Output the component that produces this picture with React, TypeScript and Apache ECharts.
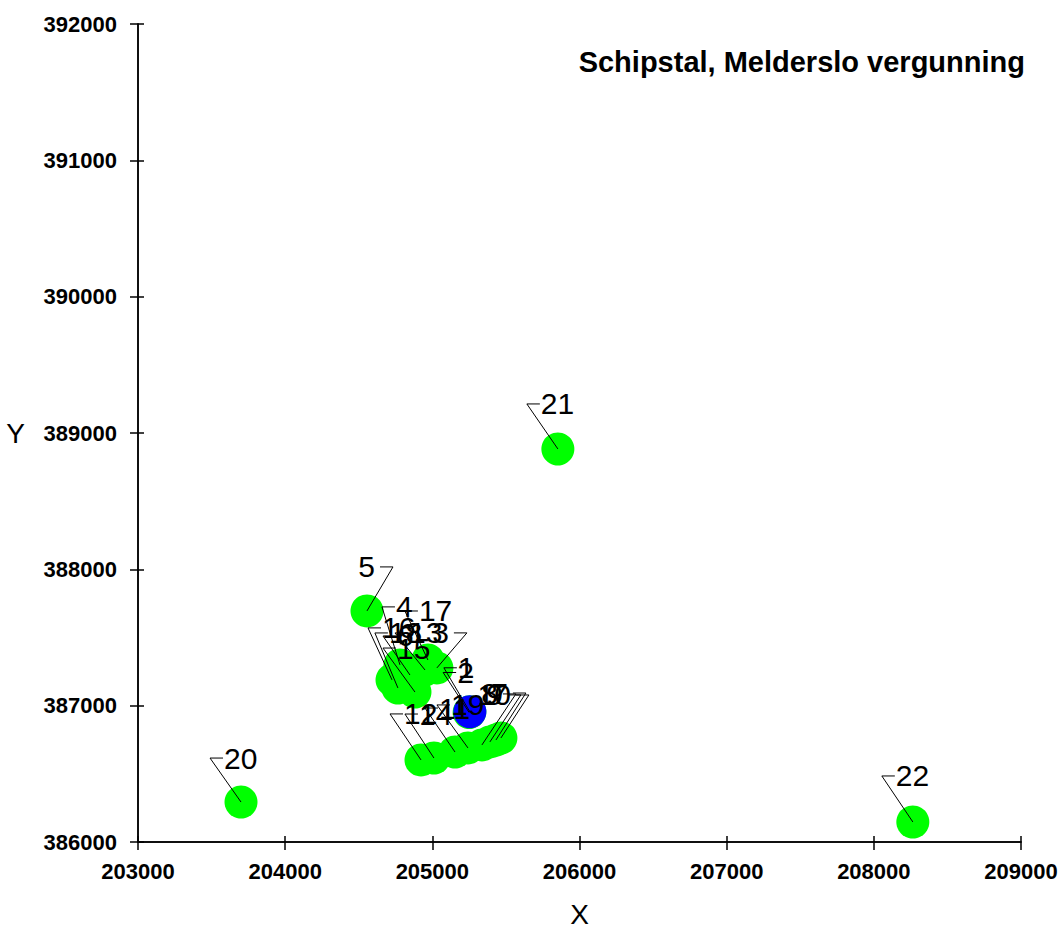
import React, { useEffect, useRef } from "react";
import * as echarts from "echarts";

const labels = ["1","2","3","4","5","6","7","8","9","10","11","12","13","14","15","16","17","18","19","20","21","22"];
const xs = [205255,205250,205031,204780,204556,204848,205432,205337,205391,205466,205154,204923,204950,205011,204882,204726,204970,204766,205242,203700,205853,208265];
const ys = [386955,386950,387277,387299,387695,387225,386748,386712,386734,386763,386660,386602,387262,386616,387100,387189,387335,387130,386690,386293,388883,386147];

const blueX = [205255];
const blueY = [386955];

const xTicks = [203000, 204000, 205000, 206000, 207000, 208000, 209000];
const yTicks = [386000, 387000, 388000, 389000, 390000, 391000, 392000];

const titleText = "Schipstal, Melderslo vergunning";

// label leader layout (pixel offsets of the leader corner, side of text)
const leaderLayout: Record<string, [number, number, "L" | "R"]> = {
  "1": [-26, -44, "L"], "2": [-26, -40, "L"], "3": [30, -35, "R"], "4": [-18, -58, "L"],
  "5": [26, -44, "R"], "6": [-27, -39, "L"], "7": [30, -47, "R"], "8": [34, -51, "R"],
  "9": [31, -47, "R"], "10": [28, -43, "R"], "11": [-30, -44, "L"], "12": [-31, -46, "L"],
  "13": [-30, -37, "L"], "14": [-29, -44, "L"], "15": [-32, -44, "L"], "16": [-24, -52, "L"],
  "17": [-23, -49, "L"], "18": [-23, -55, "L"], "19": [-31, -43, "L"], "20": [-31, -44, "L"],
  "21": [-31, -45, "L"], "22": [-31, -46, "L"],
};

const FONT = '"Liberation Sans", Arial, sans-serif';

export default function App() {
  const ref = useRef<HTMLDivElement>(null);
  useEffect(() => {
    if (!ref.current) return;
    const chart = echarts.init(ref.current, null, { renderer: "svg" });
    const points = labels.map((l, i) => [xs[i], ys[i], i]);
    const fmt = (v: number) => String(Math.round(v));
    const axisCommon = {
      type: "value" as const,
      interval: 1000,
      splitLine: { show: false },
      axisLine: { show: true, onZero: false, lineStyle: { color: "#000", width: 1.5 } },
    };
    chart.setOption({
      animation: false,
      backgroundColor: "#fff",
      title: {
        text: titleText,
        right: 33,
        top: 42,
        textStyle: { fontSize: 29, fontWeight: "bold", color: "#000", fontFamily: FONT },
      },
      grid: { left: 138, right: 42, top: 24, bottom: 91, containLabel: false },
      xAxis: [
        {
          ...axisCommon,
          min: xTicks[0],
          max: xTicks[xTicks.length - 1],
          position: "bottom",
          name: "X",
          nameLocation: "middle",
          nameGap: 58,
          nameTextStyle: { fontSize: 28, color: "#000", fontFamily: FONT },
          axisTick: { show: true, inside: false, length: 8, lineStyle: { color: "#000", width: 1.5 } },
          axisLabel: { margin: 18, fontSize: 22, fontWeight: "bold", color: "#000", fontFamily: FONT, formatter: fmt },
        },
        {
          ...axisCommon,
          min: xTicks[0],
          max: xTicks[xTicks.length - 1],
          position: "bottom",
          axisTick: { show: true, inside: true, length: 6, lineStyle: { color: "#000", width: 1.5 } },
          axisLabel: { show: false },
        },
      ],
      yAxis: [
        {
          ...axisCommon,
          min: yTicks[0],
          max: yTicks[yTicks.length - 1],
          position: "left",
          name: "Y",
          nameLocation: "middle",
          nameRotate: 0,
          nameGap: 113,
          nameTextStyle: { fontSize: 28, color: "#000", fontFamily: FONT },
          axisTick: { show: true, inside: false, length: 8, lineStyle: { color: "#000", width: 1.5 } },
          axisLabel: { margin: 21, fontSize: 22, fontWeight: "bold", color: "#000", fontFamily: FONT, formatter: fmt },
        },
        {
          ...axisCommon,
          min: yTicks[0],
          max: yTicks[yTicks.length - 1],
          position: "left",
          axisTick: { show: true, inside: true, length: 6, lineStyle: { color: "#000", width: 1.5 } },
          axisLabel: { show: false },
        },
      ],
      series: [
        {
          type: "scatter",
          xAxisIndex: 0,
          yAxisIndex: 0,
          symbol: "circle",
          symbolSize: 33,
          itemStyle: { color: "#00ff00", opacity: 1 },
          data: points.map((p) => [p[0], p[1]]),
          z: 2,
        },
        {
          type: "scatter",
          xAxisIndex: 0,
          yAxisIndex: 0,
          symbol: "circle",
          symbolSize: 33,
          itemStyle: { color: "#0000ff", opacity: 1 },
          data: blueX.map((x, i) => [x, blueY[i]]),
          z: 3,
        },
        {
          type: "custom",
          xAxisIndex: 0,
          yAxisIndex: 0,
          clip: false,
          z: 4,
          data: points,
          renderItem: (params: any, api: any) => {
            const idx = api.value(2);
            const lab = labels[idx];
            const [dx, dy, side] = leaderLayout[lab] || [-31, -45, "L"];
            const p = api.coord([api.value(0), api.value(1)]);
            const cx = p[0] + dx;
            const cy = p[1] + dy;
            const hx = side === "L" ? cx + 13 : cx - 13;
            const tx = side === "L" ? cx + 14 : cx - 18;
            return {
              type: "group",
              children: [
                {
                  type: "polyline",
                  shape: { points: [[p[0], p[1]], [cx, cy], [hx, cy]] },
                  style: { stroke: "#000", lineWidth: 1, fill: null },
                },
                {
                  type: "text",
                  x: tx,
                  y: cy,
                  style: {
                    text: lab,
                    fill: "#000",
                    font: `30px ${FONT}`,
                    align: side === "L" ? "left" : "right",
                    verticalAlign: "middle",
                  },
                },
              ],
            };
          },
        },
      ],
    });
    return () => chart.dispose();
  }, []);
  return (
    <div
      ref={ref}
      style={{ position: "fixed", left: 0, top: 0, width: 1063, height: 933, background: "#fff" }}
    />
  );
}
